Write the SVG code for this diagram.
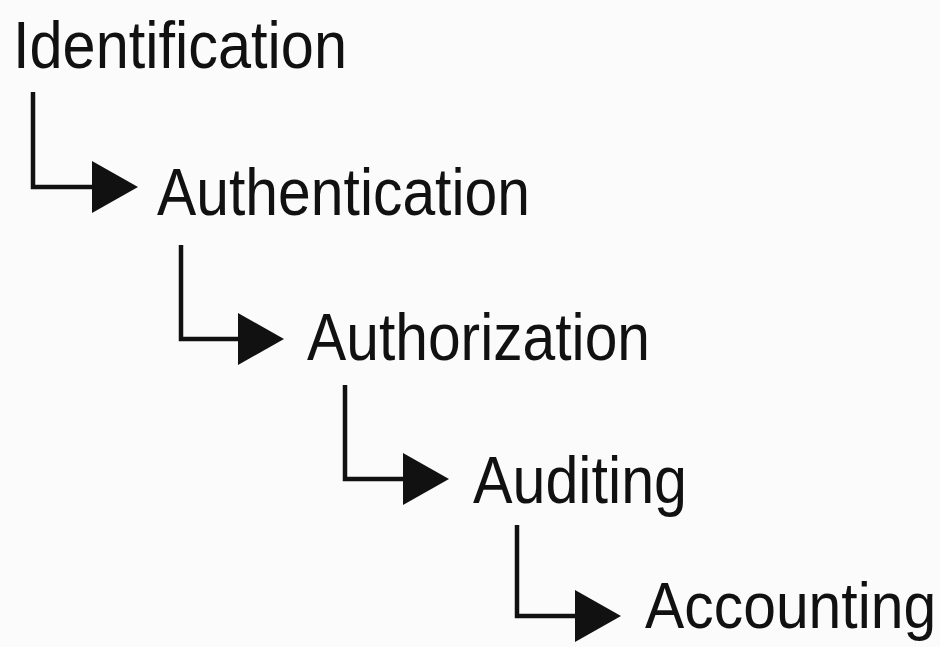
<svg xmlns="http://www.w3.org/2000/svg" width="940" height="647" viewBox="0 0 940 647">
<defs>
<style>
.lbl{font-family:"Liberation Sans Narrow","Liberation Sans",Arial,sans-serif;font-size:67px;fill:#111;}
.con{fill:none;stroke:#111;stroke-width:4.5;stroke-linejoin:miter;}
</style>
<marker id="arr" viewBox="0 0 46 52" refX="1" refY="26" markerWidth="46" markerHeight="52" markerUnits="userSpaceOnUse" orient="auto">
<path d="M0,0 L46,26 L0,52 Z" fill="#111"/>
</marker>
</defs>
<rect width="940" height="647" fill="#fbfbfb"/>
<g id="connectors">
<path class="con" d="M33,92 V187 H93" marker-end="url(#arr)"/>
<path class="con" d="M181,245 V339 H239" marker-end="url(#arr)"/>
<path class="con" d="M345,385 V479 H404" marker-end="url(#arr)"/>
<path class="con" d="M517,525 V616 H576" marker-end="url(#arr)"/>
</g>
<g id="identification"><text class="lbl" x="13" y="68" textLength="334" lengthAdjust="spacingAndGlyphs">Identification</text></g>
<g id="authentication"><text class="lbl" x="157" y="215" textLength="373" lengthAdjust="spacingAndGlyphs">Authentication</text></g>
<g id="authorization"><text class="lbl" x="307" y="360" textLength="343" lengthAdjust="spacingAndGlyphs">Authorization</text></g>
<g id="auditing"><text class="lbl" x="473" y="503" textLength="214" lengthAdjust="spacingAndGlyphs">Auditing</text></g>
<g id="accounting"><text class="lbl" transform="translate(645,628) scale(0.92,1)" x="0" y="0" style="font-size:64px">Accounting</text></g>
</svg>
